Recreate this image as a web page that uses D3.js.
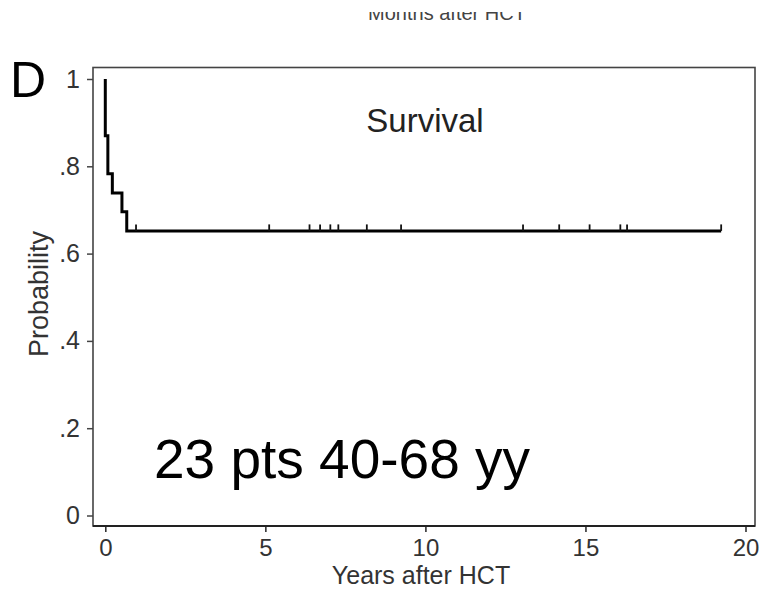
<!DOCTYPE html>
<html>
<head>
<meta charset="utf-8">
<script src="https://cdn.jsdelivr.net/npm/d3@7"></script>
<style>
  html, body { margin: 0; padding: 0; background: #fff; }
  svg { display: block; font-family: "Liberation Sans", Arial, sans-serif; }
</style>
</head>
<body>
<svg id="chart" width="760" height="590"></svg>
<script>
// ---- data ----
const stepTimes = [0, 0, 0.08, 0.22, 0.52, 0.67];          // years after HCT (event times)
const stepSurv  = [1, 0.870, 0.783, 0.739, 0.696, 0.652];  // survival probability after each step
const endTime = 19.24;
const censorTimes = [0.96, 5.12, 6.38, 6.71, 7.03, 7.28, 8.17, 9.24, 13.05, 14.18, 15.13, 16.09, 16.30, 19.24];
const xTicks = [0, 5, 10, 15, 20];
const yTicks = [0, 0.2, 0.4, 0.6, 0.8, 1];
const yTickLabels = ["0", ".2", ".4", ".6", ".8", "1"];
const panelLetter = "D";
const curveLabel = "Survival";
const noteText = "23 pts 40-68 yy";
const xTitle = "Years after HCT";
const yTitle = "Probability";
const cutTitle = "Months after HCT";

const svg = d3.select("#chart");

const x = d3.scaleLinear().domain([0, 20]).range([105.3, 745.5]);
const y = d3.scaleLinear().domain([0, 1]).range([515.5, 79]);

const frame = { left: 93, right: 755, top: 67.5, bottom: 526 };

// clipped title from panel above
svg.append("clipPath").attr("id", "topclip")
  .append("rect").attr("x", 0).attr("y", 12).attr("width", 760).attr("height", 30);
svg.append("text")
  .attr("clip-path", "url(#topclip)")
  .attr("x", 447).attr("y", 20)
  .attr("text-anchor", "middle")
  .attr("font-size", 20).attr("fill", "#444")
  .text(cutTitle);

// plot frame
svg.append("rect")
  .attr("x", frame.left).attr("y", frame.top)
  .attr("width", frame.right - frame.left).attr("height", frame.bottom - frame.top)
  .attr("fill", "none").attr("stroke", "#444").attr("stroke-width", 1.6);

// y axis
const yAxis = d3.axisLeft(y).tickValues(yTicks)
  .tickFormat((d, i) => yTickLabels[i]).tickSize(6).tickPadding(7);
const gy = svg.append("g").attr("transform", `translate(${frame.left},0)`).call(yAxis);
gy.select(".domain").remove();
gy.selectAll(".tick line").attr("stroke", "#444").attr("stroke-width", 1.5);
gy.selectAll(".tick text").attr("font-size", 25).attr("fill", "#333")
  .attr("font-family", "Liberation Sans, Arial, sans-serif");

// x axis
const xAxis = d3.axisBottom(x).tickValues(xTicks).tickSize(6).tickPadding(7);
const gx = svg.append("g").attr("transform", `translate(0,${frame.bottom})`).call(xAxis);
gx.select(".domain").remove();
gx.selectAll(".tick line").attr("stroke", "#333").attr("stroke-width", 1.6);
gx.selectAll(".tick text").attr("font-size", 24).attr("fill", "#333")
  .attr("font-family", "Liberation Sans, Arial, sans-serif");

// bottom axis line slightly heavier
svg.append("line")
  .attr("x1", frame.left).attr("x2", frame.right)
  .attr("y1", frame.bottom).attr("y2", frame.bottom)
  .attr("stroke", "#222").attr("stroke-width", 2.2);

// axis titles
svg.append("text")
  .attr("x", 421).attr("y", 584)
  .attr("text-anchor", "middle").attr("font-size", 25).attr("fill", "#333")
  .text(xTitle);
svg.append("text")
  .attr("transform", "translate(48,294) rotate(-90)")
  .attr("text-anchor", "middle").attr("font-size", 27).attr("fill", "#333")
  .text(yTitle);

// KM curve
const pts = stepTimes.map((t, i) => [t, stepSurv[i]]);
pts.push([endTime, stepSurv[stepSurv.length - 1]]);
const line = d3.line().x(d => x(d[0])).y(d => y(d[1])).curve(d3.curveStepAfter);
svg.append("path").datum(pts)
  .attr("d", line)
  .attr("fill", "none").attr("stroke", "#000").attr("stroke-width", 3);

// censor marks
function survAt(t) {
  let s = 1;
  stepTimes.forEach((st, i) => { if (st <= t) s = stepSurv[i]; });
  return s;
}
svg.append("g").selectAll("line").data(censorTimes).join("line")
  .attr("x1", d => x(d)).attr("x2", d => x(d))
  .attr("y1", d => y(survAt(d))).attr("y2", d => y(survAt(d)) - 6.5)
  .attr("stroke", "#111").attr("stroke-width", 1.8);

// labels
svg.append("text")
  .attr("x", 425).attr("y", 132)
  .attr("text-anchor", "middle").attr("font-size", 33).attr("fill", "#222")
  .text(curveLabel);

svg.append("text")
  .attr("x", 154).attr("y", 478)
  .attr("font-size", 55).attr("fill", "#000")
  .text(noteText);

svg.append("text")
  .attr("x", 10).attr("y", 97)
  .attr("font-size", 50).attr("fill", "#000")
  .text(panelLetter);
</script>
</body>
</html>
